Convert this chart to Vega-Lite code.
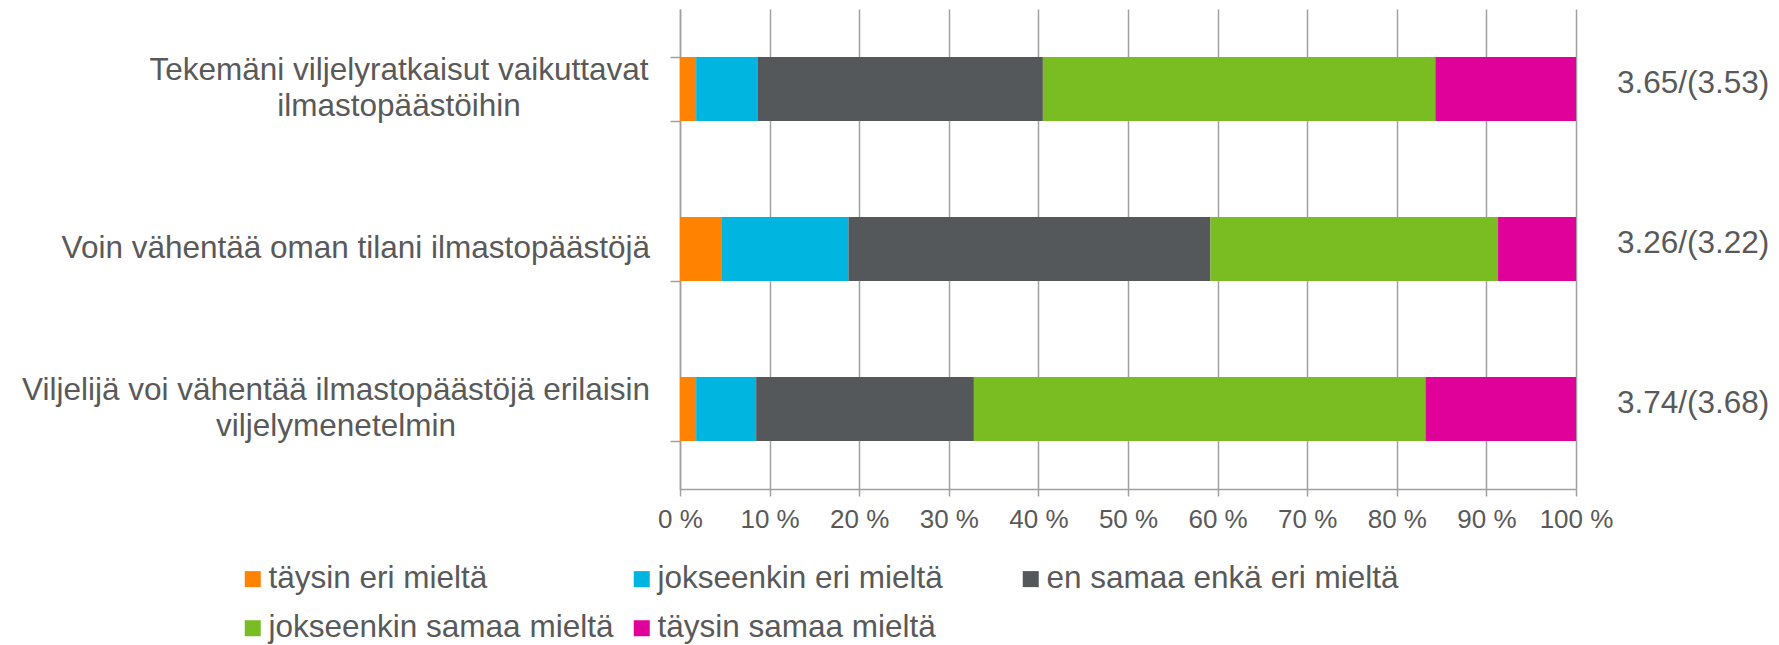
{
  "$schema": "https://vega.github.io/schema/vega-lite/v6.json",
  "width": 896,
  "height": 480,
  "autosize": {"type": "none"},
  "padding": {"left": 680, "top": 9, "right": 203, "bottom": 156},
  "background": "white",
  "config": {
    "view": {"stroke": null},
    "font": "Liberation Sans"
  },
  "datasets": {
    "answers": [
      {"q": "Tekemäni viljelyratkaisut vaikuttavat|ilmastopäästöihin", "cat": "täysin eri mieltä", "k": 1, "pct": 1.8},
      {"q": "Tekemäni viljelyratkaisut vaikuttavat|ilmastopäästöihin", "cat": "jokseenkin eri mieltä", "k": 2, "pct": 6.9},
      {"q": "Tekemäni viljelyratkaisut vaikuttavat|ilmastopäästöihin", "cat": "en samaa enkä eri mieltä", "k": 3, "pct": 31.8},
      {"q": "Tekemäni viljelyratkaisut vaikuttavat|ilmastopäästöihin", "cat": "jokseenkin samaa mieltä", "k": 4, "pct": 43.8},
      {"q": "Tekemäni viljelyratkaisut vaikuttavat|ilmastopäästöihin", "cat": "täysin samaa mieltä", "k": 5, "pct": 15.7},
      {"q": "Voin vähentää oman tilani ilmastopäästöjä", "cat": "täysin eri mieltä", "k": 1, "pct": 4.6},
      {"q": "Voin vähentää oman tilani ilmastopäästöjä", "cat": "jokseenkin eri mieltä", "k": 2, "pct": 14.2},
      {"q": "Voin vähentää oman tilani ilmastopäästöjä", "cat": "en samaa enkä eri mieltä", "k": 3, "pct": 40.4},
      {"q": "Voin vähentää oman tilani ilmastopäästöjä", "cat": "jokseenkin samaa mieltä", "k": 4, "pct": 32.1},
      {"q": "Voin vähentää oman tilani ilmastopäästöjä", "cat": "täysin samaa mieltä", "k": 5, "pct": 8.7},
      {"q": "Viljelijä voi vähentää ilmastopäästöjä erilaisin|viljelymenetelmin", "cat": "täysin eri mieltä", "k": 1, "pct": 1.8},
      {"q": "Viljelijä voi vähentää ilmastopäästöjä erilaisin|viljelymenetelmin", "cat": "jokseenkin eri mieltä", "k": 2, "pct": 6.7},
      {"q": "Viljelijä voi vähentää ilmastopäästöjä erilaisin|viljelymenetelmin", "cat": "en samaa enkä eri mieltä", "k": 3, "pct": 24.3},
      {"q": "Viljelijä voi vähentää ilmastopäästöjä erilaisin|viljelymenetelmin", "cat": "jokseenkin samaa mieltä", "k": 4, "pct": 50.4},
      {"q": "Viljelijä voi vähentää ilmastopäästöjä erilaisin|viljelymenetelmin", "cat": "täysin samaa mieltä", "k": 5, "pct": 16.8}
    ],
    "means": [
      {"q": "Tekemäni viljelyratkaisut vaikuttavat|ilmastopäästöihin", "mean": "3.65/(3.53)"},
      {"q": "Voin vähentää oman tilani ilmastopäästöjä", "mean": "3.26/(3.22)"},
      {"q": "Viljelijä voi vähentää ilmastopäästöjä erilaisin|viljelymenetelmin", "mean": "3.74/(3.68)"}
    ]
  },
  "encoding": {
    "y": {
      "field": "q",
      "type": "nominal",
      "sort": [
        "Tekemäni viljelyratkaisut vaikuttavat|ilmastopäästöihin",
        "Voin vähentää oman tilani ilmastopäästöjä",
        "Viljelijä voi vähentää ilmastopäästöjä erilaisin|viljelymenetelmin"
      ],
      "scale": {"paddingInner": 0.6, "paddingOuter": 0.3},
      "axis": {
        "title": null,
        "tickBand": "extent",
        "labels": false,
        "tickSize": 10,
        "tickColor": "#a0a0a0",
        "tickWidth": 1.5,
        "domainColor": "#a0a0a0",
        "domainWidth": 1.5,
        "grid": false
      }
    }
  },
  "layer": [
    {
      "data": {"name": "answers"},
      "mark": {"type": "bar"},
      "encoding": {
        "x": {
          "field": "pct",
          "type": "quantitative",
          "stack": "zero",
          "scale": {"domain": [0, 100], "nice": false},
          "axis": {
            "title": null,
            "values": [0, 10, 20, 30, 40, 50, 60, 70, 80, 90, 100],
            "labelExpr": "datum.value + ' %'",
            "labelFontSize": 26,
            "labelColor": "#595959",
            "labelFlush": false,
            "labelOverlap": false,
            "labelPadding": 10,
            "tickSize": 7,
            "tickColor": "#a0a0a0",
            "tickWidth": 1.5,
            "domainColor": "#a0a0a0",
            "domainWidth": 1.5,
            "grid": true,
            "gridColor": "#a0a0a0",
            "gridWidth": 1.5
          }
        },
        "color": {
          "field": "cat",
          "type": "nominal",
          "scale": {
            "domain": ["täysin eri mieltä", "jokseenkin eri mieltä", "en samaa enkä eri mieltä", "jokseenkin samaa mieltä", "täysin samaa mieltä"],
            "range": ["#FF8200", "#00B5E0", "#54585A", "#7ABD22", "#E0009A"]
          },
          "legend": {
            "orient": "none",
            "legendX": -443,
            "legendY": 554,
            "direction": "horizontal",
            "columns": 3,
            "title": null,
            "symbolType": "square",
            "symbolSize": 256,
            "symbolStrokeWidth": 0,
            "symbolOpacity": 1,
            "labelFontSize": 31.5,
            "labelColor": "#595959",
            "labelOffset": 0,
            "labelLimit": 0,
            "rowPadding": 16.5,
            "columnPadding": 5,
            "gridAlign": "all",
            "padding": 0
          }
        },
        "order": {"field": "k", "type": "quantitative"}
      }
    },
    {
      "data": {"name": "means"},
      "mark": {"type": "text", "align": "left", "baseline": "middle", "dx": 41, "dy": -5, "fontSize": 31.5, "color": "#595959"},
      "encoding": {
        "x": {"datum": 100, "type": "quantitative"},
        "text": {"field": "mean"}
      }
    },
    {
      "data": {"name": "means"},
      "transform": [{"filter": "indexof(datum.q, 'Tekem') == 0"}],
      "mark": {"type": "text", "align": "center", "baseline": "line-bottom", "lineBreak": "|", "lineHeight": 36, "dx": -281, "fontSize": 31.5, "color": "#595959"},
      "encoding": {
        "x": {"datum": 0, "type": "quantitative"},
        "text": {"field": "q"}
      }
    },
    {
      "data": {"name": "means"},
      "transform": [{"filter": "indexof(datum.q, 'Voin') == 0"}],
      "mark": {"type": "text", "align": "right", "baseline": "middle", "dx": -30, "fontSize": 31.5, "color": "#595959"},
      "encoding": {
        "x": {"datum": 0, "type": "quantitative"},
        "text": {"field": "q"}
      }
    },
    {
      "data": {"name": "means"},
      "transform": [{"filter": "indexof(datum.q, 'Viljelij') == 0"}],
      "mark": {"type": "text", "align": "center", "baseline": "line-bottom", "lineBreak": "|", "lineHeight": 36, "dx": -344, "fontSize": 31.5, "color": "#595959"},
      "encoding": {
        "x": {"datum": 0, "type": "quantitative"},
        "text": {"field": "q"}
      }
    }
  ]
}
